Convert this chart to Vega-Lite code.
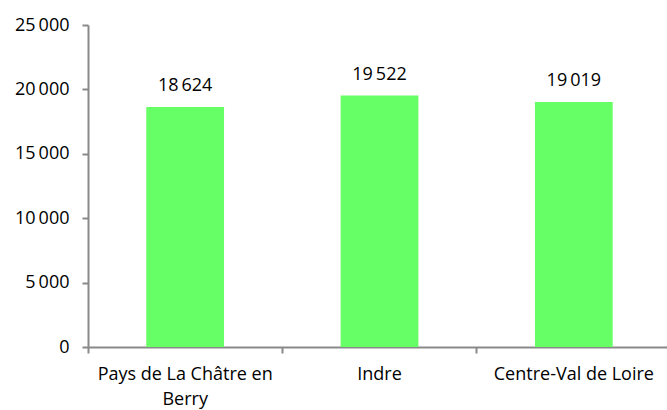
{
  "$schema": "https://vega.github.io/schema/vega-lite/v6.json",
  "width": 583,
  "height": 322,
  "autosize": "none",
  "padding": {"left": 88, "top": 25, "right": 0, "bottom": 63},
  "config": {
    "view": {"stroke": null},
    "locale": {"number": {"decimal": ",", "thousands": "\u2009", "grouping": [3], "currency": ["", " €"]}},
    "font": "Open Sans",
    "axis": {"labelFont": "Open Sans", "labelFontSize": 18, "labelColor": "#000000", "domainColor": "#898989", "tickColor": "#898989", "domainWidth": 2, "tickWidth": 2, "grid": false, "title": null}
  },
  "data": {"values": [
    {"zone": "Pays de La Châtre en Berry", "valeur": 18624},
    {"zone": "Indre", "valeur": 19522},
    {"zone": "Centre-Val de Loire", "valeur": 19019}
  ]},
  "encoding": {
    "x": {"field": "zone", "type": "nominal", "sort": null,
      "scale": {"paddingInner": 0, "paddingOuter": 0},
      "axis": {"labelAngle": 0, "bandPosition": 0, "tickSize": 6, "labelPadding": 12, "labelAlign": "center", "labelLineHeight": 25,
        "labelExpr": "datum.label == 'Pays de La Châtre en Berry' ? ['Pays de La Châtre en', 'Berry'] : datum.label"}},
    "y": {"field": "valeur", "type": "quantitative",
      "scale": {"domain": [0, 25000], "nice": false},
      "axis": {"values": [0, 5000, 10000, 15000, 20000, 25000], "labelExpr": "format(datum.value, ',')", "tickSize": 6, "labelPadding": 13}}
  },
  "layer": [
    {"mark": {"type": "bar", "color": "#66FF66", "width": {"band": 0.4}}},
    {"mark": {"type": "text", "baseline": "bottom", "dy": -12, "fontSize": 18, "font": "Open Sans", "color": "#000000"},
     "encoding": {"text": {"field": "valeur", "type": "quantitative", "format": ","}}}
  ]
}
